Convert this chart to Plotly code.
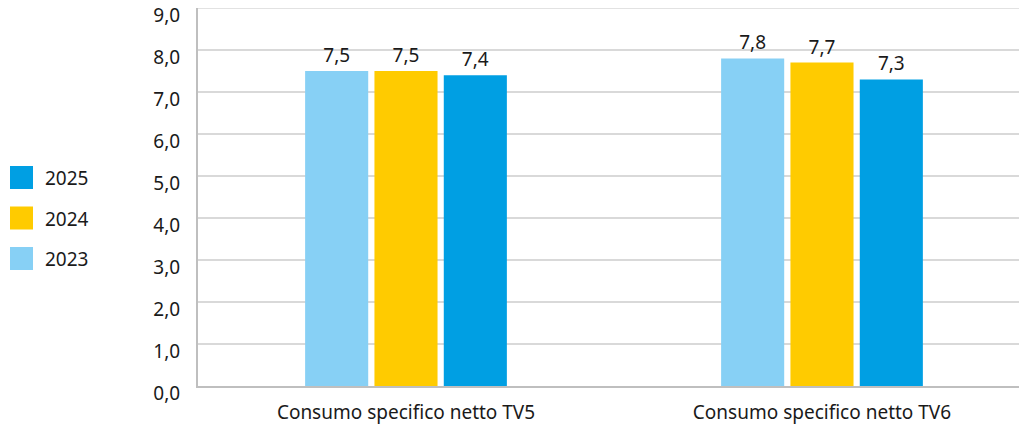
import plotly.graph_objects as go

categories = ["Consumo specifico netto TV5", "Consumo specifico netto TV6"]
series_names = ["2023", "2024", "2025"]
values_2023 = [7.5, 7.8]
values_2024 = [7.5, 7.7]
values_2025 = [7.4, 7.3]
colors = {"2023": "#87D0F5", "2024": "#FFCB00", "2025": "#009FE3"}
y_ticks = [0, 1, 2, 3, 4, 5, 6, 7, 8, 9]

W, H = 1019, 425
ML, MR, MT, MB = 198, 0, 8, 39
FONT = "Noto Sans"
FS = 19
TXT = "#1a1a1a"

series = {"2023": values_2023, "2024": values_2024, "2025": values_2025}

fig = go.Figure()
for name in series_names:
    fig.add_trace(go.Bar(
        x=categories, y=series[name], name=name,
        marker=dict(color=colors[name], line=dict(width=0)),
        texttemplate="%{y:.1f}", textposition="outside",
        textfont=dict(size=FS, color=TXT, family=FONT),
        cliponaxis=False, showlegend=False,
    ))

pw = W - ML - MR
ph = H - MT - MB
def px_x(p):
    return (p - ML) / pw
def px_y(p):
    return 1 - (p - MT) / ph

shapes = []
annotations = []
legend_order = ["2025", "2024", "2023"]
for i, name in enumerate(legend_order):
    top = 166 + i * 40.5
    shapes.append(dict(type="rect", xref="paper", yref="paper",
                       x0=px_x(10), x1=px_x(33), y0=px_y(top + 23), y1=px_y(top),
                       fillcolor=colors[name], line=dict(width=0)))
    annotations.append(dict(xref="paper", yref="paper", x=px_x(43), y=px_y(top + 12),
                            text=name, showarrow=False, xanchor="left", yanchor="middle",
                            font=dict(size=FS, color=TXT, family=FONT)))

fig.update_layout(
    width=W, height=H,
    margin=dict(l=ML, r=MR, t=MT, b=MB, pad=0, autoexpand=False),
    paper_bgcolor="white", plot_bgcolor="white",
    separators=",.",
    barmode="group", bargap=0.5, bargroupgap=0.09,
    font=dict(family=FONT, size=FS, color=TXT),
    showlegend=False,
    shapes=shapes, annotations=annotations,
    xaxis=dict(range=[-0.5, 1.4736], showgrid=False, showline=True,
               linecolor="#BFBFBF", linewidth=2, ticks="", tickfont=dict(size=FS, color=TXT),
               ticklabelstandoff=8, fixedrange=True, automargin=False),
    yaxis=dict(range=[0, 9], tickvals=y_ticks, tickformat=".1f",
               showgrid=True, gridcolor="#D9D9D9", gridwidth=1.5,
               showline=True, linecolor="#BFBFBF", linewidth=2,
               zeroline=False, ticks="", ticklabelstandoff=12,
               ticklabelshift=7, ticklabeloverflow="allow", automargin=False,
               tickfont=dict(size=FS, color=TXT)),
)
fig.add_hline(y=9, line=dict(color="#D9D9D9", width=1.5), layer="below")

fig.write_html("out.html")
